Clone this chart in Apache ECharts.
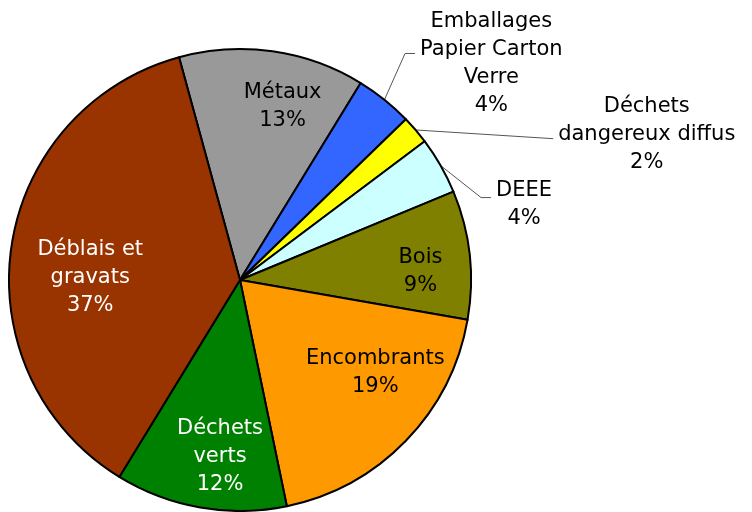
<!DOCTYPE html>
<html>
<head>
<meta charset="utf-8">
<script src="https://cdn.jsdelivr.net/npm/echarts@6/dist/echarts.min.js"></script>
<style>
  html, body { margin: 0; padding: 0; background: #fff; }
  #chart { width: 752px; height: 512px; }
</style>
</head>
<body>
<div id="chart"></div>
<script>
// Données (en %)
const categories = ["Métaux", "Emballages Papier Carton Verre", "Déchets dangereux diffus", "DEEE",
  "Bois", "Encombrants", "Déchets verts", "Déblais et gravats"];
const labelTexts = [["Métaux"], ["Emballages", "Papier Carton", "Verre"], ["Déchets", "dangereux diffus"],
  ["DEEE"], ["Bois"], ["Encombrants"], ["Déchets", "verts"], ["Déblais et", "gravats"]];
const values = [13, 4, 2, 4, 9, 19, 12, 37];
const colors = ["#999999", "#3366ff", "#ffff00", "#ccffff", "#808000", "#ff9900", "#008000", "#993300"];
const outside = [1, 2, 3];
const whiteText = [6, 7];

const FONT = "DejaVu Sans";
const CENTER = [240, 280];
const R = 231;
const START = 105.3;

// longueurs des traits de rappel pour les petites parts
const lineLen = { 1: [49, 4], 2: [2, 136], 3: [12, 40] };
// petits décalages des étiquettes intérieures (dx, dy)
const insideShift = { 0: [18, -1], 4: [7, 11], 5: [10, -29], 6: [10, 5], 7: [23, 22] };

const fmt = (p) =>
  labelTexts[p.dataIndex].map((l) => "{c|" + l + "}").join("\n") + "\n{c|" + p.value + "%}";

const richFor = (color) => ({
  c: { align: "center", fontFamily: FONT, fontSize: 21, lineHeight: 28, color: color },
});

const mainData = categories.map((name, i) => {
  const isOut = outside.includes(i);
  return {
    name: name,
    value: values[i],
    itemStyle: { color: colors[i] },
    label: { show: isOut },
    labelLine: isOut
      ? { show: true, length: lineLen[i][0], length2: lineLen[i][1] }
      : { show: false },
  };
});

const labelData = categories.map((name, i) => ({
  name: name,
  value: values[i],
  label: {
    show: !outside.includes(i),
    rich: richFor(whiteText.includes(i) ? "#ffffff" : "#000000"),
  },
}));

const outsideLayout = (p) => {
  const pts = p.labelLinePoints;
  const rc = p.labelRect;
  const cy = rc.y + rc.height / 2;
  if (p.dataIndex === 1) {
    const yl = cy - 8;
    return { dx: -4, dy: 2, labelLinePoints: [pts[0], [rc.x - 19, yl], [rc.x - 9, yl]] };
  }
  if (p.dataIndex === 2) {
    return { y: cy + 6, labelLinePoints: [pts[0], [rc.x - 5, cy + 10]] };
  }
  if (p.dataIndex === 3) {
    // DEEE : étiquette abaissée, trait en diagonale
    const y = cy + 45;
    const xEnd = pts[2][0];
    return { y: y, labelLinePoints: [pts[0], [xEnd - 10, y - 7], [xEnd, y - 7]] };
  }
  return {};
};

const chart = echarts.init(document.getElementById("chart"));
chart.setOption({
  animation: false,
  series: [
    {
      type: "pie",
      center: CENTER,
      radius: R,
      startAngle: START,
      clockwise: true,
      avoidLabelOverlap: false,
      silent: true,
      itemStyle: { borderColor: "#000", borderWidth: 2 },
      label: {
        position: "outside",
        formatter: fmt,
        rich: richFor("#000000"),
      },
      labelLine: {
        lineStyle: { color: "#555", width: 1 },
      },
      labelLayout: outsideLayout,
      data: mainData,
    },
    {
      // série transparente pour placer les étiquettes intérieures
      type: "pie",
      center: CENTER,
      radius: [112, R],
      startAngle: START,
      clockwise: true,
      silent: true,
      z: 5,
      itemStyle: { color: "rgba(0,0,0,0)", borderWidth: 0 },
      label: { position: "inside", formatter: fmt },
      labelLine: { show: false },
      labelLayout: (p) => {
        const s = insideShift[p.dataIndex];
        return s ? { dx: s[0], dy: s[1] } : {};
      },
      data: labelData,
    },
  ],
});
</script>
</body>
</html>
